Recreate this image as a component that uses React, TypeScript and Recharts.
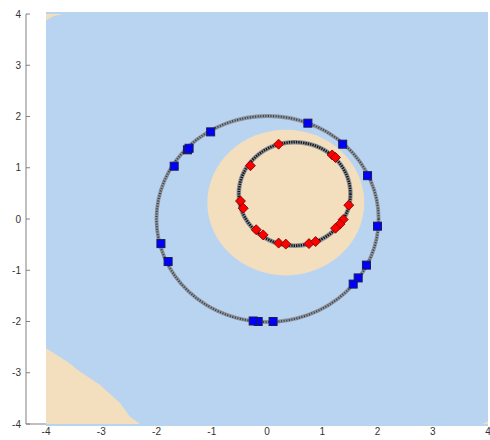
import React from 'react';
import { ComposedChart, XAxis, YAxis, Area, Scatter, ReferenceArea, ReferenceLine } from 'recharts';

// Tick labels
const xTicks = [-4, -3, -2, -1, 0, 1, 2, 3, 4];
const yTicks = [-4, -3, -2, -1, 0, 1, 2, 3, 4];

// Decision region boundaries (beige corners)
const bottomLeftX = [-4, -3.62, -3.38, -3.02, -2.66, -2.48, -2.3];
const bottomLeftY = [-2.52, -2.78, -2.98, -3.24, -3.59, -3.86, -4];
const topLeftX = [-4, -3.86, -3.69];
const topLeftY = [3.88, 3.96, 4];
const bottomRightX = [3.9, 4];
const bottomRightY = [-4, -3.94];

// Central beige region: centre and radius
const beigeCircle = { cx: 0.34, cy: 0.32, r: 1.42 };
// Boundary rings: centre and radius
const innerRing = { cx: 0.5, cy: 0.49, r: 1.01 };
const outerRing = { cx: 0.01, cy: 0, r: 2.01 };

// Blue squares (outer class)
const blueX = [0.74, 1.37, 1.82, 2.0, 1.8, 1.65, 1.56, 0.11, -0.16, -0.25, -1.79, -1.92, -1.68, -1.44, -1.41, -1.02];
const blueY = [1.87, 1.46, 0.845, -0.14, -0.9, -1.15, -1.27, -2.0, -2.0, -1.99, -0.83, -0.48, 1.03, 1.35, 1.38, 1.7];

// Red diamonds (inner class)
const redX = [0.21, 1.18, 1.24, -0.3, -0.48, -0.43, 1.48, 1.38, 1.32, 1.24, -0.195, -0.07, 0.21, 0.34, 0.76, 0.88];
const redY = [1.46, 1.25, 1.2, 1.04, 0.35, 0.21, 0.27, -0.01, -0.1, -0.18, -0.21, -0.31, -0.47, -0.49, -0.48, -0.44];

const BLUE_BG = '#b9d4f1';
const BEIGE = '#f3dfbe';

const regionData = [
  ...bottomLeftX.map((x, i) => ({ x, bl: [-4, bottomLeftY[i]] })),
  ...topLeftX.map((x, i) => ({ x, tl: [topLeftY[i], 4] })),
  ...bottomRightX.map((x, i) => ({ x, br: [-4, bottomRightY[i]] })),
];

const blueData = blueX.map((x, i) => ({ x, y: blueY[i] }));
const redData = redX.map((x, i) => ({ x, y: redY[i] }));

const EllipseFill = (props: any) => {
  const { x, y, width, height } = props;
  return (
    <ellipse cx={x + width / 2} cy={y + height / 2} rx={Math.abs(width) / 2} ry={Math.abs(height) / 2} fill={BEIGE} />
  );
};

const makeRing = (dark: boolean) => (props: any) => {
  const { x, y, width, height } = props;
  const cx = x + width / 2;
  const cy = y + height / 2;
  const rx = Math.abs(width) / 2;
  const ry = Math.abs(height) / 2;
  return (
    <g>
      <ellipse cx={cx} cy={cy} rx={rx} ry={ry} fill="none" stroke="#858c95" strokeOpacity={0.9} strokeWidth={dark ? 4.5 : 3.8} />
      <ellipse
        cx={cx}
        cy={cy}
        rx={rx}
        ry={ry}
        fill="none"
        stroke="#000"
        strokeOpacity={dark ? 0.85 : 0.6}
        strokeWidth={dark ? 2.6 : 2}
        strokeDasharray={dark ? '1.4 1' : '1 1.6'}
      />
    </g>
  );
};

const Square = (props: any) => {
  const { cx, cy } = props;
  return <rect x={cx - 4} y={cy - 4} width={8} height={8} fill="#0000ff" stroke="#1c1c50" strokeWidth={1} />;
};

const Diamond = (props: any) => {
  const { cx, cy } = props;
  const d = 5;
  return (
    <polygon
      points={`${cx},${cy - d} ${cx + d},${cy} ${cx},${cy + d} ${cx - d},${cy}`}
      fill="#ff0000"
      stroke="#6a0000"
      strokeWidth={0.8}
    />
  );
};

const YTick = (props: any) => {
  const { x, y, payload } = props;
  return (
    <g>
      <line x1={x} x2={x + 4} y1={y} y2={y} stroke="#808080" strokeWidth={1} />
      <text x={x - 5} y={y} dy="0.35em" textAnchor="end" fontSize={10} fill="#333" fontFamily="Liberation Sans, Arial, sans-serif">
        {payload.value}
      </text>
    </g>
  );
};

export default function App() {
  return (
    <div style={{ position: 'absolute', left: 0, top: 0, background: '#fff' }}>
      <ComposedChart
        width={490}
        height={440}
        data={regionData}
        margin={{ top: 14, right: 2, bottom: 0, left: 0 }}
      >
        <XAxis
          dataKey="x"
          type="number"
          domain={[-4.362, 4]}
          ticks={xTicks}
          allowDataOverflow
          axisLine={false}
          tickLine={false}
          tickSize={0}
          tickMargin={4}
          height={16}
          interval={0}
          tick={{ fontSize: 10, fill: '#333', fontFamily: 'Liberation Sans, Arial, sans-serif' }}
        />
        <YAxis
          type="number"
          domain={[-4, 4]}
          ticks={yTicks}
          allowDataOverflow
          width={26}
          axisLine={{ stroke: '#808080', strokeWidth: 1 }}
          tickLine={false}
          tickSize={0}
          tickMargin={0}
          interval={0}
          tick={<YTick />}
        />
        <ReferenceArea x1={-4} x2={4} y1={-4.04} y2={4.04} fill={BLUE_BG} fillOpacity={1} stroke="none" ifOverflow="visible" />
        <ReferenceArea
          x1={beigeCircle.cx - beigeCircle.r}
          x2={beigeCircle.cx + beigeCircle.r}
          y1={beigeCircle.cy - beigeCircle.r}
          y2={beigeCircle.cy + beigeCircle.r}
          ifOverflow="visible"
          shape={EllipseFill}
        />
        <Area dataKey="bl" type="linear" fill={BEIGE} fillOpacity={1} stroke="none" isAnimationActive={false} dot={false} activeDot={false} />
        <Area dataKey="tl" type="linear" fill={BEIGE} fillOpacity={1} stroke="none" isAnimationActive={false} dot={false} activeDot={false} />
        <Area dataKey="br" type="linear" fill={BEIGE} fillOpacity={1} stroke="none" isAnimationActive={false} dot={false} activeDot={false} />
        <ReferenceArea
          x1={outerRing.cx - outerRing.r}
          x2={outerRing.cx + outerRing.r}
          y1={outerRing.cy - outerRing.r}
          y2={outerRing.cy + outerRing.r}
          ifOverflow="visible"
          shape={makeRing(false)}
        />
        <ReferenceArea
          x1={innerRing.cx - innerRing.r}
          x2={innerRing.cx + innerRing.r}
          y1={innerRing.cy - innerRing.r}
          y2={innerRing.cy + innerRing.r}
          ifOverflow="visible"
          shape={makeRing(true)}
        />
        <ReferenceLine
          segment={[{ x: -4.362, y: -4 }, { x: -4, y: -4 }]}
          stroke="#808080"
          strokeWidth={1}
          ifOverflow="visible"
        />
        <Scatter data={blueData} dataKey="y" shape={<Square />} isAnimationActive={false} />
        <Scatter data={redData} dataKey="y" shape={<Diamond />} isAnimationActive={false} />
      </ComposedChart>
    </div>
  );
}
